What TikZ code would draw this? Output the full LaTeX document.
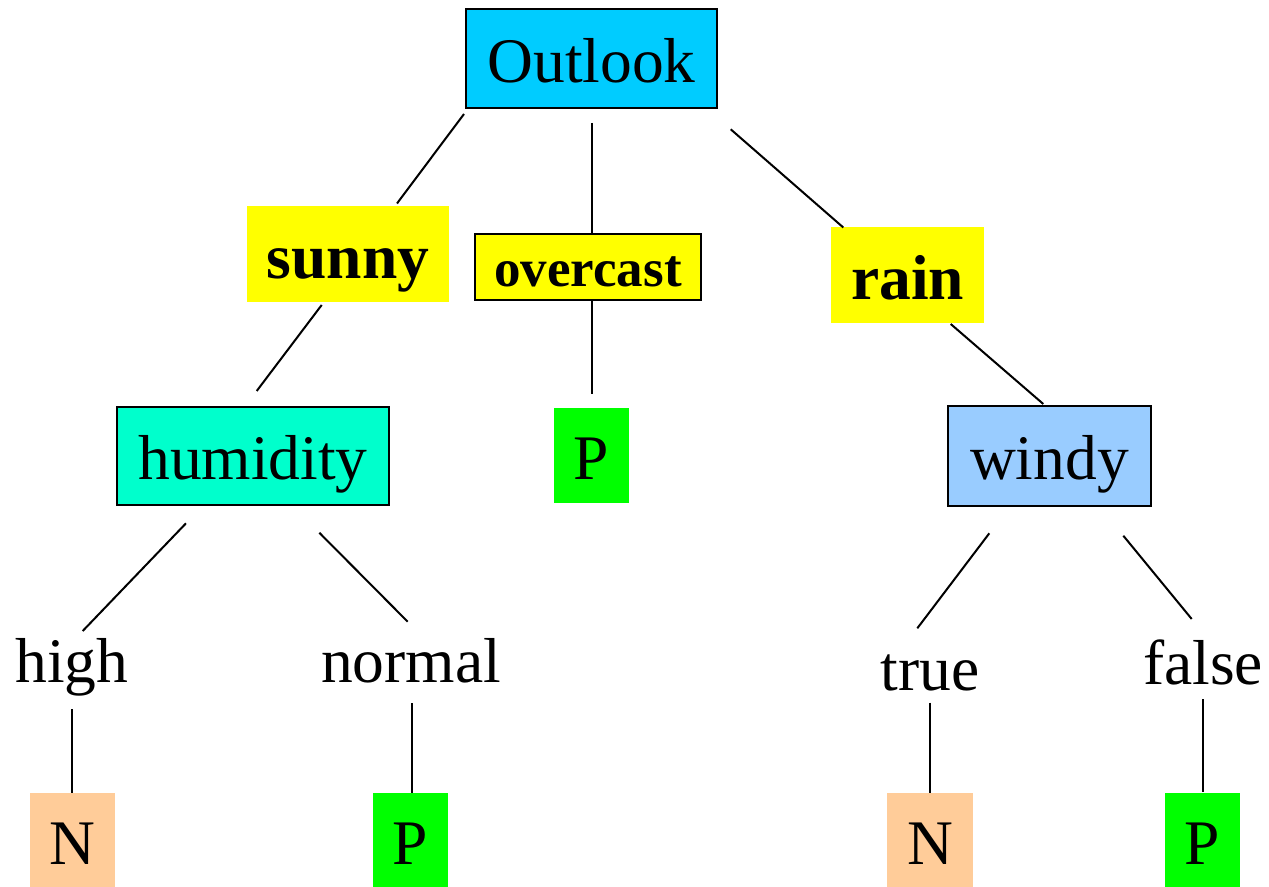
\documentclass[tikz,border=0pt]{standalone}
\usepackage{fontspec}
\setmainfont{Liberation Serif}
\definecolor{cOutlook}{RGB}{0,204,255}
\definecolor{cYellow}{RGB}{255,255,0}
\definecolor{cHum}{RGB}{0,255,204}
\definecolor{cWindy}{RGB}{153,204,255}
\definecolor{cN}{RGB}{255,204,153}
\definecolor{cP}{RGB}{0,255,0}
\tikzset{
  bigtext/.style={font=\fontsize{31.75}{38}\selectfont},
  boxbase/.style={rectangle, inner sep=0pt, text height=24pt, text depth=0pt, bigtext},
  attrbox/.style={boxbase, draw=black, line width=1pt},
  valbox/.style={boxbase, font=\fontsize{31.75}{38}\selectfont\bfseries},
  leafbox/.style={boxbase, minimum width=37.5pt, minimum height=47pt},
  lbl/.style={anchor=base, inner sep=0pt, bigtext},
  conn/.style={line width=1pt}
}
\begin{document}
\begin{tikzpicture}[x=0.5pt, y=-0.5pt]
\useasboundingbox (0,0) rectangle (1269,887);
% attribute nodes
\node[attrbox, fill=cOutlook, minimum width=125.5pt, minimum height=49.5pt] (outlook) at (591.5,58.5) {Outlook};
\node[attrbox, fill=cHum, minimum width=136pt, minimum height=49pt] (humidity) at (253,455.8) {humidity};
\node[attrbox, fill=cWindy, minimum width=101.5pt, minimum height=50pt] (windy) at (1049.5,456) {windy};
% value nodes
\node[valbox, fill=cYellow, minimum width=101pt, minimum height=48pt] (sunny) at (348,254.5) {sunny};
\node[valbox, fill=cYellow, draw=black, line width=1pt, minimum width=113pt, minimum height=33pt, text height=20pt, font=\fontsize{26.5}{32}\selectfont\bfseries] (overcast) at (588,266.7) {overcast};
\node[valbox, fill=cYellow, minimum width=76.5pt, minimum height=48pt] (rain) at (907.5,275.5) {rain};
% leaves
\node[leafbox, fill=cP] (pmid) at (591.5,455.5) {P};
\node[leafbox, fill=cN, minimum width=42.5pt] (n1) at (72.5,840) {N};
\node[leafbox, fill=cP] (p2) at (410.5,840) {P};
\node[leafbox, fill=cN, minimum width=43pt] (n2) at (930,840) {N};
\node[leafbox, fill=cP] (p3) at (1202.5,840) {P};
% branch labels
\node[lbl] (high) at (72,682) {high};
\node[lbl] (normal) at (411,682) {normal};
\node[lbl] (true) at (930,690) {true};
\node[lbl] (false) at (1203,684) {false};
% connector end points
\coordinate (os1) at (464,114);   \coordinate (os2) at (397,203.5);
\coordinate (oo1) at (591.5,123); \coordinate (oo2) at (591.5,234);
\coordinate (or1) at (730.7,129.3); \coordinate (or2) at (843.3,227.5);
\coordinate (sh1) at (321.7,305); \coordinate (sh2) at (256.7,391);
\coordinate (op1) at (591.5,300); \coordinate (op2) at (591.5,394);
\coordinate (rw1) at (950.7,324); \coordinate (rw2) at (1043.3,404);
\coordinate (hh1) at (186,523.3); \coordinate (hh2) at (82.7,631);
\coordinate (hn1) at (319.3,532.7); \coordinate (hn2) at (407.7,621.7);
\coordinate (hN1) at (72,709); \coordinate (hN2) at (72,793);
\coordinate (nP1) at (411.5,703); \coordinate (nP2) at (411.5,793);
\coordinate (wt1) at (989.3,533.3); \coordinate (wt2) at (917.3,628.3);
\coordinate (wf1) at (1123.3,535.7); \coordinate (wf2) at (1191.7,619);
\coordinate (tN1) at (930,702.7); \coordinate (tN2) at (930,793);
\coordinate (fP1) at (1202.7,699.3); \coordinate (fP2) at (1202.7,792);
% connectors
\draw[conn] (os1) -- (os2);
\draw[conn] (oo1) -- (oo2);
\draw[conn] (or1) -- (or2);
\draw[conn] (sh1) -- (sh2);
\draw[conn] (op1) -- (op2);
\draw[conn] (rw1) -- (rw2);
\draw[conn] (hh1) -- (hh2);
\draw[conn] (hn1) -- (hn2);
\draw[conn] (hN1) -- (hN2);
\draw[conn] (nP1) -- (nP2);
\draw[conn] (wt1) -- (wt2);
\draw[conn] (wf1) -- (wf2);
\draw[conn] (tN1) -- (tN2);
\draw[conn] (fP1) -- (fP2);
\end{tikzpicture}
\end{document}
